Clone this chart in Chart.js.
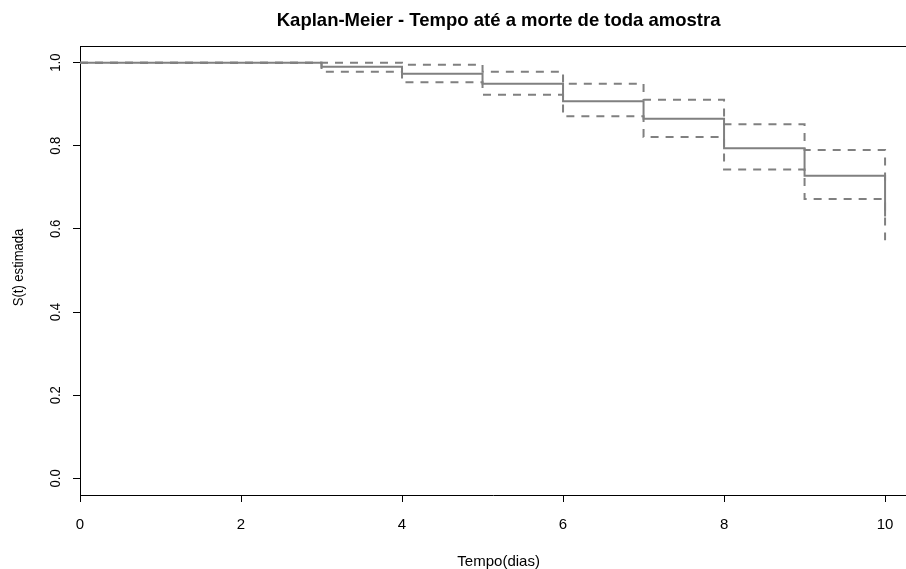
<!DOCTYPE html>
<html>
<head>
<meta charset="utf-8">
<title>Kaplan-Meier</title>
<script src="https://cdn.jsdelivr.net/npm/chart.js@4.4.1/dist/chart.umd.min.js"></script>
<style>
  html, body { margin: 0; padding: 0; background: #fff; overflow: hidden; }
  #km { display: block; }
</style>
</head>
<body>
<canvas id="km" width="906" height="569"></canvas>
<script>
// Estimativa de Kaplan-Meier e banda de confianca (limites inferior e superior)
const tempos = [0, 3, 4, 5, 6, 7, 8, 9, 10];
const sobrevida = [1, 0.990, 0.973, 0.949, 0.907, 0.865, 0.794, 0.728, 0.630];
const limiteSup = [1, 1.000, 0.995, 0.978, 0.949, 0.911, 0.852, 0.790, 0.700];
const limiteInf = [1, 0.978, 0.953, 0.923, 0.871, 0.821, 0.743, 0.672, 0.573];

const xTicks = [0, 2, 4, 6, 8, 10];
const xTickLabels = ['0', '2', '4', '6', '8', '10'];
const yTicks = [0, 0.2, 0.4, 0.6, 0.8, 1.0];
const yTickLabels = ['0.0', '0.2', '0.4', '0.6', '0.8', '1.0'];

const titulo = 'Kaplan-Meier - Tempo até a morte de toda amostra';
const rotuloX = 'Tempo(dias)';
const rotuloY = 'S(t) estimada';

const cinza = '#808080';
const fonte = '"Liberation Sans", Arial, sans-serif';

function pontos(valores) {
    return tempos.map((t, i) => ({ x: t, y: valores[i] }));
}

// texto vertical um pouco condensado no sentido da escrita
function textoVertical(ctx, texto, x, y) {
    ctx.save();
    ctx.translate(x, y);
    ctx.rotate(-Math.PI / 2);
    ctx.scale(0.87, 1);
    ctx.fillText(texto, 0, 0);
    ctx.restore();
}

// Texto (titulo, rotulos, ticks) e linha superior da caixa
const moldura = {
    id: 'moldura',
    afterDraw(chart) {
        const ctx = chart.ctx;
        const area = chart.chartArea;
        const sx = chart.scales.x;
        const sy = chart.scales.y;
        // centro da regiao do grafico no estilo do R (0 ate 10.4)
        const centroX = sx.getPixelForValue(5.2);

        ctx.save();
        ctx.strokeStyle = '#000';
        ctx.lineWidth = 1;
        ctx.beginPath();
        ctx.moveTo(area.left, Math.round(area.top) + 0.5);
        ctx.lineTo(area.right, Math.round(area.top) + 0.5);
        ctx.stroke();

        ctx.fillStyle = '#000';
        ctx.textAlign = 'center';
        ctx.textBaseline = 'middle';

        ctx.font = 'bold 18.5px ' + fonte;
        ctx.fillText(titulo, centroX, 21);

        ctx.font = '15px ' + fonte;
        xTicks.forEach((v, i) => {
            ctx.fillText(xTickLabels[i], sx.getPixelForValue(v), 525);
        });
        ctx.fillText(rotuloX, centroX, 562);

        yTicks.forEach((v, i) => {
            textoVertical(ctx, yTickLabels[i], 56, sy.getPixelForValue(v));
        });
        textoVertical(ctx, rotuloY, 18.5, (area.top + area.bottom) / 2 - 3);
        ctx.restore();
    }
};

new Chart(document.getElementById('km'), {
    type: 'line',
    data: {
        datasets: [
            {
                label: 'S(t)',
                data: pontos(sobrevida),
                borderColor: cinza,
                borderWidth: 2,
                stepped: true,
                pointRadius: 0
            },
            {
                label: 'Limite superior',
                data: pontos(limiteSup),
                borderColor: cinza,
                borderWidth: 2,
                borderDash: [8, 7],
                stepped: true,
                pointRadius: 0
            },
            {
                label: 'Limite inferior',
                data: pontos(limiteInf),
                borderColor: cinza,
                borderWidth: 2,
                borderDash: [8, 7],
                stepped: true,
                pointRadius: 0
            }
        ]
    },
    options: {
        responsive: false,
        animation: false,
        layout: { padding: { top: 46, left: 0, right: 0, bottom: 0 } },
        plugins: {
            legend: { display: false },
            title: { display: false },
            tooltip: { enabled: false }
        },
        scales: {
            x: {
                type: 'linear',
                min: 0,
                max: 10.26,
                afterBuildTicks: s => { s.ticks = xTicks.map(v => ({ value: v })); },
                afterFit: s => { s.height = 74; },
                ticks: { display: false },
                grid: { drawOnChartArea: false, drawTicks: true, tickLength: 7, color: '#000' },
                border: { display: true, color: '#000', width: 1 }
            },
            y: {
                type: 'linear',
                min: -0.04,
                max: 1.04,
                afterBuildTicks: s => { s.ticks = yTicks.map(v => ({ value: v })); },
                afterFit: s => { s.width = 80; },
                ticks: { display: false },
                grid: { drawOnChartArea: false, drawTicks: true, tickLength: 7, color: '#000' },
                border: { display: true, color: '#000', width: 1 }
            }
        }
    },
    plugins: [moldura]
});
</script>
</body>
</html>
